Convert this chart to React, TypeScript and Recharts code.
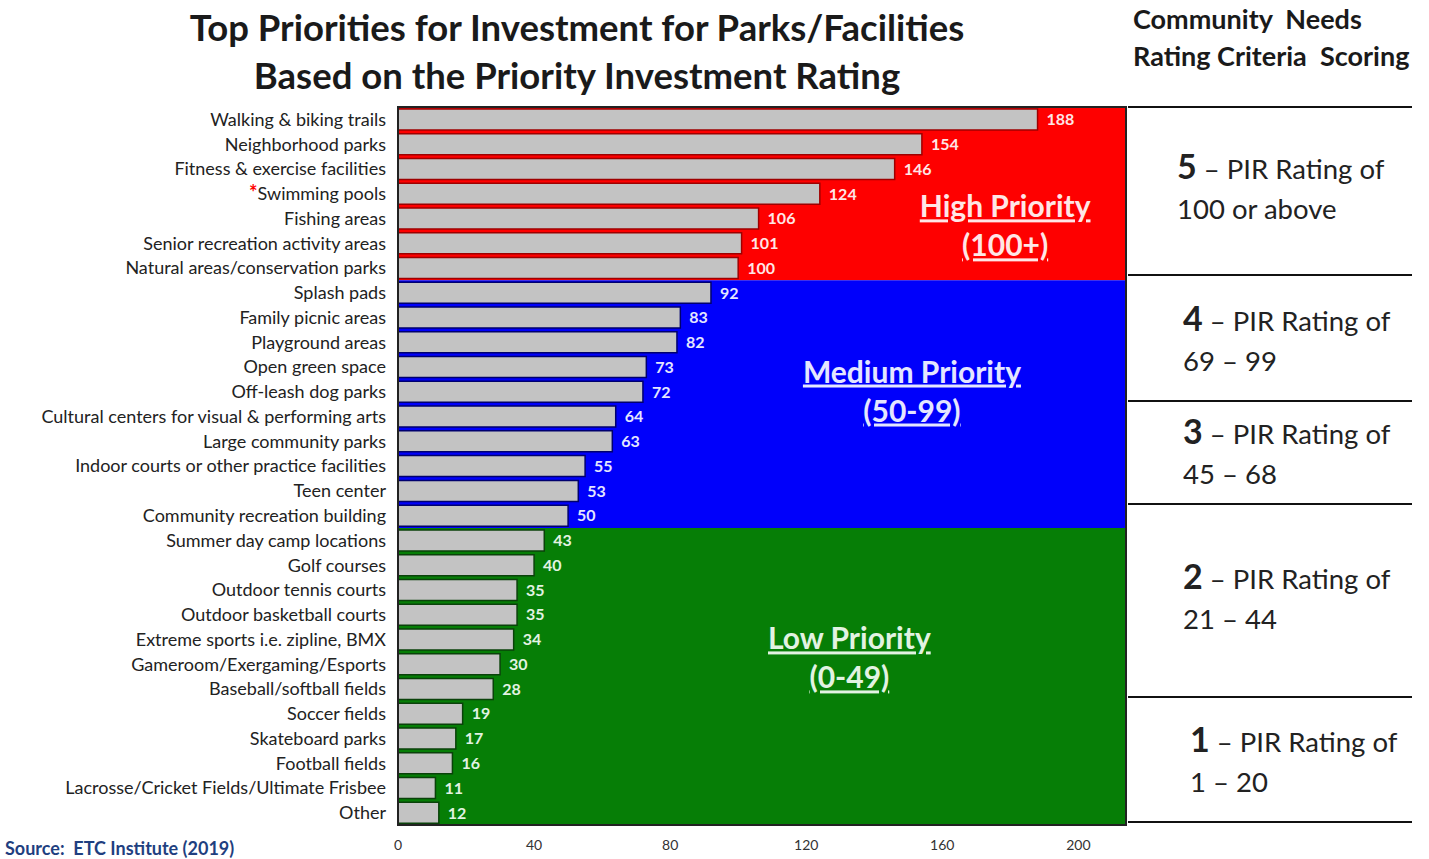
import React from "react";
import {
  BarChart,
  Bar,
  XAxis,
  YAxis,
  Cell,
  LabelList,
  ReferenceArea,
} from "recharts";

const categories = [
  "Walking & biking trails",
  "Neighborhood parks",
  "Fitness & exercise facilities",
  "Swimming pools",
  "Fishing areas",
  "Senior recreation activity areas",
  "Natural areas/conservation parks",
  "Splash pads",
  "Family picnic areas",
  "Playground areas",
  "Open green space",
  "Off-leash dog parks",
  "Cultural centers for visual & performing arts",
  "Large community parks",
  "Indoor courts or other practice facilities",
  "Teen center",
  "Community recreation building",
  "Summer day camp locations",
  "Golf courses",
  "Outdoor tennis courts",
  "Outdoor basketball courts",
  "Extreme sports i.e. zipline, BMX",
  "Gameroom/Exergaming/Esports",
  "Baseball/softball fields",
  "Soccer fields",
  "Skateboard parks",
  "Football fields",
  "Lacrosse/Cricket Fields/Ultimate Frisbee",
  "Other",
];

const values = [
  188, 154, 146, 124, 106, 101, 100, 92, 83, 82, 73, 72, 64, 63, 55, 53, 50,
  43, 40, 35, 35, 34, 30, 28, 19, 17, 16, 11, 12,
];

const starred = ["Swimming pools"];

const xTicks = [0, 40, 80, 120, 160, 200];

const tiers = [
  { name: "High Priority", range: "(100+)", min: 100, fill: "#fe0000", dark: "#9e0000", text: "#ffe6e6", labelDx: 0.834, labelDy: 0.69 },
  { name: "Medium Priority", range: "(50-99)", min: 50, fill: "#0000fb", dark: "#00006e", text: "#e4e6ff", labelDx: 0.706, labelDy: 0.45 },
  { name: "Low Priority", range: "(0-49)", min: 0, fill: "#067e06", dark: "#0a420a", text: "#e2f3e2", labelDx: 0.62, labelDy: 0.44 },
];

const scoring = [
  { num: "5", line2: "100 or above", top: 146, left: 1177 },
  { num: "4", line2: "69 – 99", top: 298, left: 1183 },
  { num: "3", line2: "45 – 68", top: 411, left: 1183 },
  { num: "2", line2: "21 – 44", top: 556, left: 1183 },
  { num: "1", line2: "1 – 20", top: 719, left: 1190 },
];
const dividerYs = [107, 275, 401, 504, 697, 822];

const data = categories.map((c, i) => ({ name: c, value: values[i] }));

const tierOf = (v: number) => tiers.find((t) => v >= t.min)!;

const FONT = "Lato, 'Open Sans', sans-serif";

const YTick = (props: any) => {
  const { x, y, payload } = props;
  const star = starred.includes(payload.value);
  return (
    <text x={x} y={y} dy="0.36em" textAnchor="end" fontSize={18} fill="#222" fontFamily={FONT}>
      {star && (
        <tspan fill="#ff0000" fontWeight={700} fontSize={20}>
          *
        </tspan>
      )}
      <tspan>{payload.value}</tspan>
    </text>
  );
};

const XTick = (props: any) => {
  const { x, y, payload } = props;
  return (
    <text x={x} y={y} dy="0.71em" textAnchor="middle" fontSize={14} fill="#333" fontFamily={FONT}>
      {payload.value}
    </text>
  );
};

const ValueLabel = (props: any) => {
  const { x, y, width, height, value } = props;
  const t = tierOf(value);
  return (
    <text
      x={x + width + 9}
      y={y + height / 2}
      dy="0.36em"
      fontSize={16}
      fontWeight={700}
      fill={t.text}
      fontFamily={FONT}
    >
      {value}
    </text>
  );
};

const tierRange = (t: typeof tiers[number]) => {
  const idx = data
    .map((d, i) => ({ i, t: tierOf(d.value) }))
    .filter((o) => o.t === t)
    .map((o) => o.i);
  return [data[idx[0]].name, data[idx[idx.length - 1]].name];
};

const TierLabel = (t: typeof tiers[number]) => (props: any) => {
  const vb = props.viewBox || {};
  const cx = vb.x + vb.width * t.labelDx;
  const cy = vb.y + vb.height * t.labelDy;
  return (
    <g fontFamily={FONT} fontWeight={700} fontSize={30} fill={t.text} textAnchor="middle">
      <text x={cx} y={cy - 20} dy="0.36em" style={{ textDecoration: "underline" }}>
        {t.name}
      </text>
      <text x={cx} y={cy + 19} dy="0.36em" style={{ textDecoration: "underline" }}>
        {t.range}
      </text>
    </g>
  );
};

export default function App() {
  return (
    <div
      style={{
        position: "absolute",
        left: 0,
        top: 0,
        width: 1429,
        height: 859,
        background: "#fff",
        fontFamily: FONT,
        overflow: "hidden",
      }}
    >
      <div
        style={{
          position: "absolute",
          left: 0,
          width: 1154,
          top: 3,
          textAlign: "center",
          fontWeight: 700,
          fontSize: 36.5,
          lineHeight: "48px",
          color: "#1a1a1a",
          whiteSpace: "nowrap",
        }}
      >
        Top Priorities for Investment for Parks/Facilities
        <br />
        Based on the Priority Investment Rating
      </div>

      <div
        style={{
          position: "absolute",
          left: 1133,
          top: 0,
          fontWeight: 700,
          fontSize: 27,
          lineHeight: "37px",
          color: "#1a1a1a",
          whiteSpace: "nowrap",
        }}
      >
        Community&nbsp; Needs
        <br />
        Rating Criteria&nbsp; Scoring
      </div>

      {dividerYs.map((y) => (
        <div
          key={y}
          style={{
            position: "absolute",
            left: 1128,
            width: 284,
            top: y - 1,
            height: 2,
            background: "#111",
          }}
        />
      ))}

      {scoring.map((s) => (
        <div
          key={s.num}
          style={{
            position: "absolute",
            left: s.left,
            top: s.top,
            fontSize: 27.5,
            lineHeight: "40px",
            color: "#222",
            whiteSpace: "nowrap",
          }}
        >
          <span style={{ fontWeight: 700, fontSize: 34 }}>{s.num}</span> – PIR Rating of
          <br />
          {s.line2}
        </div>
      ))}

      <div
        style={{
          position: "absolute",
          left: 5,
          top: 837,
          fontWeight: 700,
          fontSize: 18,
          color: "#1f3f80",
          whiteSpace: "nowrap",
        }}
      >
        Source:&nbsp; ETC Institute (2019)
      </div>

      <div style={{ position: "absolute", left: 0, top: 0 }}>
        <BarChart
          width={1429}
          height={859}
          data={data}
          layout="vertical"
          margin={{ top: 107, right: 303, bottom: 0, left: 0 }}
          barSize={21}
        >
          {tiers.map((t) => {
            const [a, b] = tierRange(t);
            return (
              <ReferenceArea
                key={t.name}
                y1={a}
                y2={b}
                fill={t.fill}
                fillOpacity={1}
                stroke="none"
                ifOverflow="visible"
                label={TierLabel(t)}
              />
            );
          })}
          <XAxis
            type="number"
            domain={[0, 214]}
            ticks={xTicks}
            allowDataOverflow
            height={34}
            tickSize={0}
            tickMargin={15}
            tick={<XTick />}
            axisLine={{ stroke: "#222", strokeWidth: 2 }}
          />
          <YAxis
            type="category"
            dataKey="name"
            width={398}
            tickSize={0}
            tickMargin={12}
            interval={0}
            tick={<YTick />}
            axisLine={{ stroke: "#222", strokeWidth: 2 }}
          />
          <Bar dataKey="value" isAnimationActive={false}>
            {data.map((d, i) => (
              <Cell key={i} fill="#c3c3c3" stroke={tierOf(d.value).dark} strokeWidth={1.5} />
            ))}
            <LabelList dataKey="value" content={<ValueLabel />} />
          </Bar>
          <ReferenceArea
            x1={0}
            x2={214}
            fill="none"
            fillOpacity={0}
            stroke="#222"
            strokeWidth={2}
            ifOverflow="visible"
          />
        </BarChart>
      </div>
    </div>
  );
}
